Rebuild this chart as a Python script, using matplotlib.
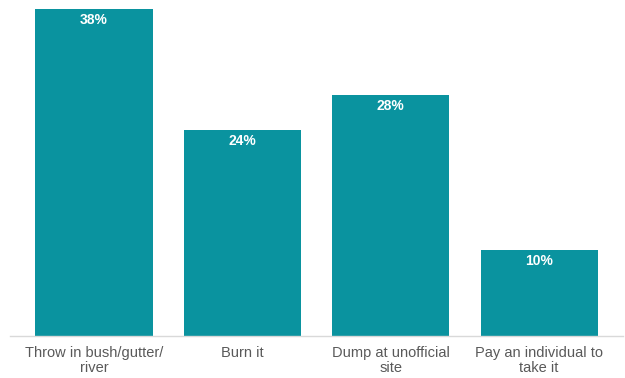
import matplotlib.pyplot as plt

plt.rcParams['font.family'] = ['Liberation Sans', 'DejaVu Sans']

categories = ["Throw in bush/gutter/\nriver", "Burn it", "Dump at unofficial\nsite", "Pay an individual to\ntake it"]
shares = [38, 24, 28, 10]

fig = plt.figure(figsize=(6.25, 3.78), dpi=100)
ax = fig.add_axes([0.016, 0.111, 0.981, 0.889])

x = list(range(len(categories)))
bars = ax.bar(x, shares, width=0.79, color="#0A939F", zorder=2)

# percentage labels just inside the top of each bar
for b, v in zip(bars, shares):
    ax.annotate(f"{v}%", (b.get_x() + b.get_width() / 2, v), xytext=(0, -3),
                textcoords="offset points", ha="center", va="top",
                color="white", fontweight="bold", fontsize=10)

ax.set_xticks(x)
ax.set_xticklabels(categories, color="#595959", fontsize=10.5, linespacing=1.1)
ax.tick_params(axis="x", length=0, pad=7)
ax.set_yticks([])
ax.set_xlim(-0.566, 3.566)
ax.set_ylim(0, 39.07)

for s in ["top", "right", "left"]:
    ax.spines[s].set_visible(False)
ax.spines["bottom"].set_color("#D9D9D9")
ax.spines["bottom"].set_linewidth(1)

plt.savefig("out.png", dpi=100)
